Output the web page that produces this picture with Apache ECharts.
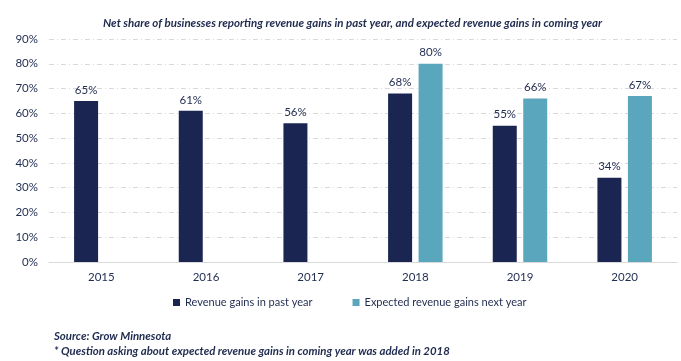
<!DOCTYPE html>
<html><head><meta charset="utf-8">
<script src="https://cdn.jsdelivr.net/npm/echarts@6/dist/echarts.min.js"></script>
<style>html,body{margin:0;padding:0;background:#fff}#c{width:681px;height:361px}</style>
</head><body><div id="c"></div>
<script>
const categories = ['2015','2016','2017','2018','2019','2020'];
const pastYear = [65, 61, 56, 68, 55, 34];
const nextYear = [null, null, null, 80, 66, 67];
const yTicks = [0, 10, 20, 30, 40, 50, 60, 70, 80, 90];
const seriesNames = ['Revenue gains in past year', 'Expected revenue gains next year'];

const font = "Lato, 'Liberation Sans', sans-serif";
const txt = '#1f2b4f';
const chart = echarts.init(document.getElementById('c'));
const lbl = {show: true, position: 'top', distance: 5, color: txt, fontSize: 11.5, fontFamily: font, formatter: p => p.value + '%'};
chart.setOption({
  animation: false,
  textStyle: {fontFamily: font},
  title: [{
    text: 'Net share of businesses reporting revenue gains in past year, and expected revenue gains in coming year',
    left: 98, top: 12,
    textStyle: {fontSize: 11.5, fontStyle: 'italic', fontWeight: 'bold', color: txt, fontFamily: font}
  }, {
    text: 'Source: Grow Minnesota\n* Question asking about expected revenue gains in coming year was added in 2018',
    left: 49, top: 324,
    textStyle: {fontSize: 11.4, fontStyle: 'italic', fontWeight: 'bold', color: txt, fontFamily: font, lineHeight: 15}
  }],
  legend: {
    data: seriesNames, top: 292, left: 168, itemGap: 40,
    itemWidth: 7, itemHeight: 7, icon: 'rect',
    textStyle: {fontSize: 11, color: txt, fontFamily: font}
  },
  grid: {left: 49, right: 4, top: 39, bottom: 99},
  xAxis: {
    type: 'category', data: categories,
    axisLine: {lineStyle: {color: '#d9d9d9'}}, axisTick: {show: false},
    axisLabel: {color: txt, fontSize: 11.5, margin: 9, fontFamily: font}
  },
  yAxis: {
    type: 'value', min: yTicks[0], max: yTicks[yTicks.length - 1], interval: 10,
    axisLabel: {color: txt, fontSize: 11.5, formatter: v => v + '%', margin: 11, fontFamily: font},
    splitLine: {lineStyle: {color: '#d9d9d9', type: [5, 3, 1, 3]}},
    axisLine: {show: false}, axisTick: {show: false}
  },
  series: [
    {name: seriesNames[0], type: 'bar', data: pastYear, barWidth: 24, barGap: '27%', itemStyle: {color: '#1a2651'}, label: lbl},
    {name: seriesNames[1], type: 'bar', data: nextYear, barWidth: 24, itemStyle: {color: '#5aa6bd'}, label: lbl}
  ]
});
</script></body></html>
